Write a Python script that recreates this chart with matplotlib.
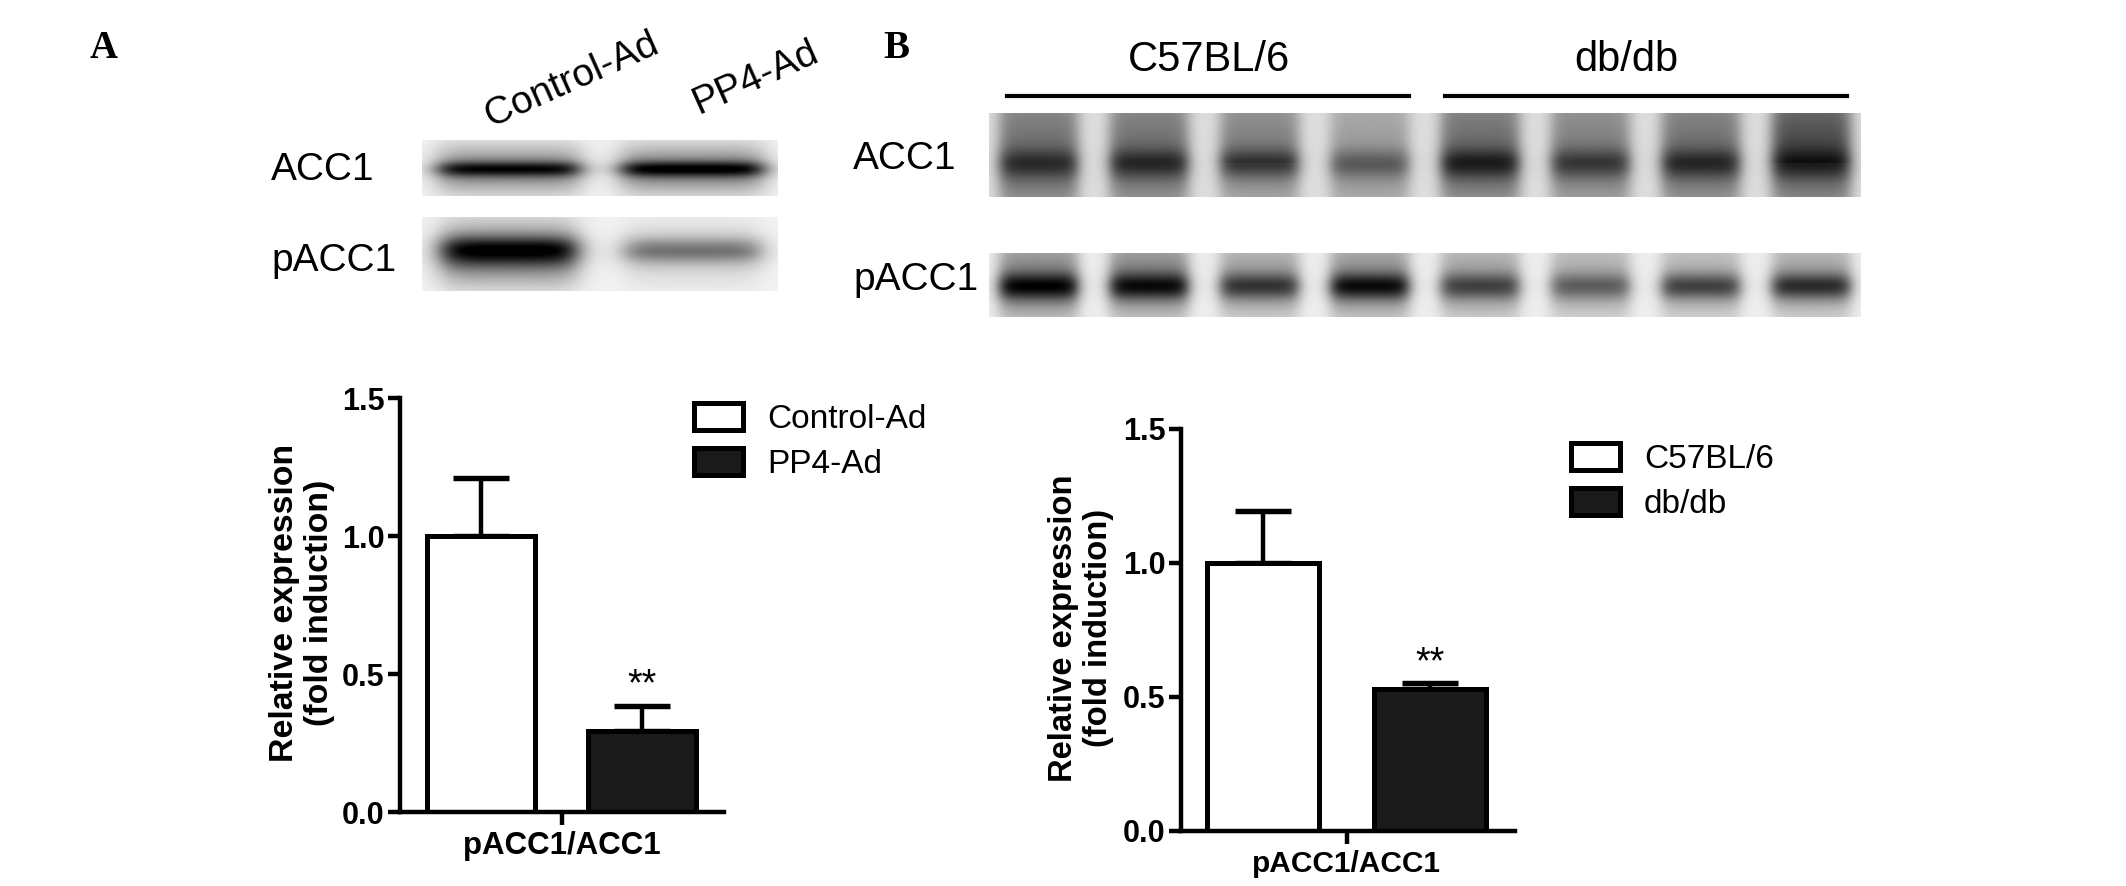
#!/usr/bin/env python3

import matplotlib
matplotlib.use('Agg')
import matplotlib.pyplot as plt
import numpy as np

plt.rcParams['font.family'] = ['Liberation Sans', 'DejaVu Sans']

W, H = 2126, 886

# Bar chart values
a_groups = ['Control-Ad', 'PP4-Ad']
a_means = [1.0, 0.292]
a_errs = [0.21, 0.091]
b_groups = ['C57BL/6', 'db/db']
b_means = [1.0, 0.53]
b_errs = [0.195, 0.023]
y_ticks = [0.0, 0.5, 1.0, 1.5]

# Blot band darkness per lane (0 white, 1 black), read by eye
a_acc1_band = [0.90, 1.0]
a_acc1_top = [0.42, 0.45]
a_acc1_bot = [0.45, 0.48]
a_pacc1_band = [1.0, 0.42]
a_pacc1_top = [0.42, 0.12]
a_pacc1_bot = [0.62, 0.16]
b_acc1_band = [0.48, 0.52, 0.50, 0.34, 0.58, 0.46, 0.52, 0.55]
b_acc1_top = [0.46, 0.46, 0.40, 0.28, 0.48, 0.40, 0.46, 0.62]
b_acc1_bot = [0.46, 0.44, 0.34, 0.30, 0.46, 0.38, 0.44, 0.50]
b_pacc1_band = [0.90, 0.85, 0.62, 0.85, 0.55, 0.42, 0.58, 0.68]
b_pacc1_top = [0.45, 0.46, 0.34, 0.40, 0.32, 0.28, 0.26, 0.32]
b_pacc1_bot = [0.42, 0.38, 0.30, 0.36, 0.30, 0.26, 0.26, 0.28]


def px_axes(fig, left, top, right, bottom):
    return fig.add_axes([left / W, 1 - bottom / H, (right - left) / W, (bottom - top) / H])


def px_text(fig, x, y, s, **kw):
    kw.setdefault('ha', 'center')
    kw.setdefault('va', 'center')
    return fig.text(x / W, 1 - y / H, s, **kw)


def draw_blot(fig, box, centers, lane_w, band, top, bot, band_y, band_s, reach, soft, bg):
    left, up, right, down = box
    ax = px_axes(fig, left, up, right, down)
    nx, ny = int(right - left), int(down - up)
    x = (np.arange(nx) + 0.5) / nx
    y = (np.arange(ny) + 0.5) / ny
    ink = np.full((ny, nx), bg)
    for c, b, t, d in zip(centers, band, top, bot):
        mask = 1 / (1 + np.exp(-(x - c + lane_w / 2) / soft)) * 1 / (1 + np.exp((x - c - lane_w / 2) / soft))
        up_part = t * np.exp(-(np.clip(band_y - y, 0, None) / reach[0]) ** 2) * (y <= band_y)
        low_part = d * np.exp(-(np.clip(y - band_y, 0, None) / reach[1]) ** 2) * (y > band_y)
        core = b * np.exp(-((y - band_y) / band_s) ** 2)
        prof = core + (1 - core) * (up_part + low_part)
        ink += np.outer(prof, mask)
    ax.imshow(1 - np.clip(ink, 0, 1), cmap='gray', vmin=0, vmax=1, aspect='auto', interpolation='bilinear')
    ax.axis('off')


def bar_panel(fig, box, groups, means, errs, xlim, width, legend_at, star_y, label_size, name_size, label_y):
    ax = px_axes(fig, *box)
    colors = ['white', '#1a1a1a']
    for i in range(2):
        ax.bar(i, means[i], width, color=colors[i], edgecolor='black', linewidth=3.6, label=groups[i], zorder=2)
        ax.errorbar(i, means[i], yerr=[[0], [errs[i]]], color='black', elinewidth=3.2, capsize=20, capthick=3.9, zorder=1)
    ax.set_xlim(xlim)
    ax.set_ylim(0, 1.5)
    ax.spines['top'].set_visible(False)
    ax.spines['right'].set_visible(False)
    ax.spines['left'].set_linewidth(3.2)
    ax.spines['bottom'].set_linewidth(3.2)
    ax.patch.set_alpha(0)
    ax.set_yticks(y_ticks)
    ax.set_yticklabels(['%.1f' % t for t in y_ticks], fontsize=22, fontweight='bold')
    ax.set_xticks([0.5])
    ax.set_xticklabels(['pACC1/ACC1'], fontsize=name_size, fontweight='bold')
    ax.tick_params(axis='both', width=3.2, length=9, pad=2)
    ax.tick_params(axis='x', pad=5)
    ax.set_ylabel('Relative expression\n(fold induction)', fontsize=label_size, fontweight='bold', linespacing=1.18)
    ax.yaxis.set_label_coords(-0.2, label_y)
    ax.text(1, star_y, '**', fontsize=27, ha='center', va='center')
    ax.legend(loc='upper left', bbox_to_anchor=(legend_at[0] / W, 1 - legend_at[1] / H),
              bbox_transform=fig.transFigure, frameon=False, fontsize=24, borderpad=0, borderaxespad=0,
              handlelength=1.47, handleheight=0.87, handletextpad=0.72, labelspacing=0.38)
    return ax


fig = plt.figure(figsize=(W / 100, H / 100), dpi=100)

# Panel letters
px_text(fig, 104, 49, 'A', fontsize=28, fontweight='bold', family='Liberation Serif')
px_text(fig, 896, 49, 'B', fontsize=28, fontweight='bold', family='Liberation Serif')

# Panel A blots
a_lanes = [0.245, 0.76]
draw_blot(fig, (422, 140, 778, 196), a_lanes, 0.40, a_acc1_band, a_acc1_top, a_acc1_bot, 0.52, 0.13, (0.42, 0.42), 0.022, 0.05)
draw_blot(fig, (422, 217, 778, 291), a_lanes, 0.38, a_pacc1_band, a_pacc1_top, a_pacc1_bot, 0.45, 0.17, (0.40, 0.42), 0.022, 0.05)
px_text(fig, 271, 170, 'ACC1', fontsize=28, ha='left')
px_text(fig, 271, 261, 'pACC1', fontsize=28, ha='left')
px_text(fig, 572, 80, 'Control-Ad', fontsize=28, rotation=24)
px_text(fig, 756, 78, 'PP4-Ad', fontsize=28, rotation=24)

# Panel B blots
b_lanes = np.linspace(0.057, 0.943, 8)
draw_blot(fig, (989, 113, 1861, 197), b_lanes, 0.09, b_acc1_band, b_acc1_top, b_acc1_bot, 0.60, 0.17, (1.2, 0.7), 0.005, 0.12)
draw_blot(fig, (989, 253, 1861, 317), b_lanes, 0.09, b_pacc1_band, b_pacc1_top, b_pacc1_bot, 0.52, 0.20, (0.9, 0.6), 0.005, 0.06)
px_text(fig, 853, 159, 'ACC1', fontsize=28, ha='left')
px_text(fig, 853, 280, 'pACC1', fontsize=28, ha='left')
px_text(fig, 1209, 60, 'C57BL/6', fontsize=30)
px_text(fig, 1626, 60, 'db/db', fontsize=30)
fig.add_artist(plt.Line2D([1007 / W, 1409 / W], [1 - 96 / H, 1 - 96 / H], color='black', linewidth=3))
fig.add_artist(plt.Line2D([1445 / W, 1847 / W], [1 - 96 / H, 1 - 96 / H], color='black', linewidth=3))

# Bar charts
bar_panel(fig, (400, 398, 724, 812), a_groups, a_means, a_errs, (-0.503, 1.509), 0.67, (694, 403), 0.46, 24.4, 22.5, 0.505)
bar_panel(fig, (1181, 429, 1515, 831), b_groups, b_means, b_errs, (-0.493, 1.509), 0.67, (1571, 443), 0.625, 23.6, 21.5, 0.505)

fig.savefig('out.png', dpi=100)
